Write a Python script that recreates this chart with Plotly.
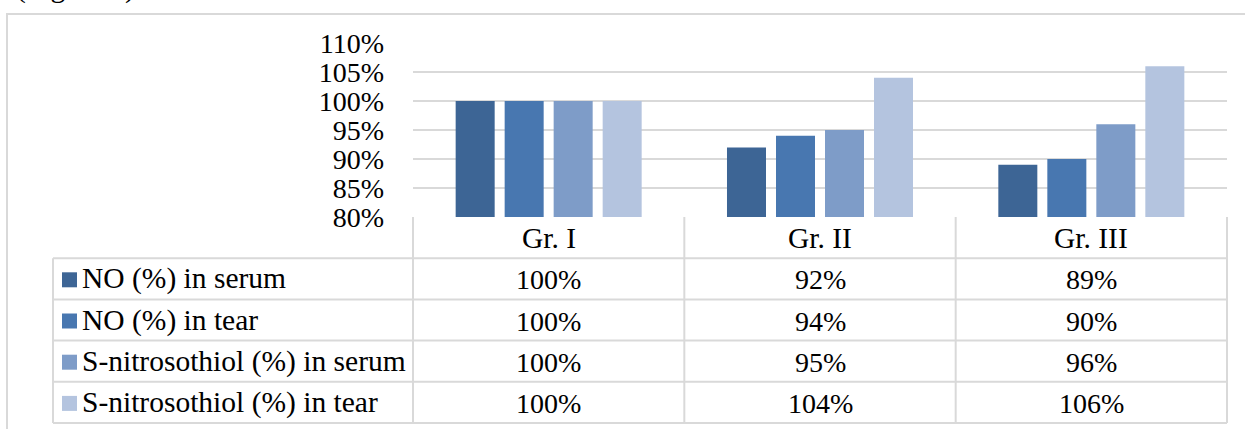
import plotly.graph_objects as go

# ---- data ----
categories = ["Gr. I", "Gr. II", "Gr. III"]
series_names = ["NO (%) in serum", "NO (%) in tear",
                "S-nitrosothiol (%) in serum", "S-nitrosothiol (%) in tear"]
no_serum = [1.00, 0.92, 0.89]
no_tear = [1.00, 0.94, 0.90]
snt_serum = [1.00, 0.95, 0.96]
snt_tear = [1.00, 1.04, 1.06]
y_ticks = [0.80, 0.85, 0.90, 0.95, 1.00, 1.05, 1.10]
caption = "(Figure 3)"

series_values = [no_serum, no_tear, snt_serum, snt_tear]
colors = ["#3d6595", "#4877b0", "#7e9cc8", "#b4c4df"]

FONT = "'Liberation Serif', 'Times New Roman', Times, 'DejaVu Serif', serif"
FS_NUM = 28
FS_TXT = 29.5
GRID = "#d9d9d9"

# page geometry (pixels)
WIDTH, HEIGHT = 1245, 429
L, R, T, B = 413, 1227, 43, 217
PW, PH = R - L, B - T


def px(p):
    return (p - L) / PW


def py(p):
    return (B - p) / PH


fig = go.Figure()
for name, vals, col in zip(series_names, series_values, colors):
    fig.add_trace(go.Bar(x=categories, y=vals, name=name,
                         marker=dict(color=col, line=dict(width=0)),
                         showlegend=False))

shapes = []
annotations = []

# outer chart frame
shapes.append(dict(type="rect", xref="paper", yref="paper",
                   x0=px(7), x1=px(1260), y0=py(14), y1=py(445),
                   line=dict(color=GRID, width=2), layer="below"))

# data table geometry
n_rows = len(series_names)
row_h = (423 - B) / (n_rows + 1)
row_edges = [B + i * row_h for i in range(n_rows + 2)]
ncat = len(categories)
col_edges = [i / ncat for i in range(ncat + 1)]  # paper x of category bounds
leg_left = px(53)

line = dict(color=GRID, width=2)
for ye in row_edges[1:]:
    shapes.append(dict(type="line", xref="paper", yref="paper",
                       x0=leg_left, x1=1, y0=py(ye), y1=py(ye), line=line))
for xe in col_edges:
    shapes.append(dict(type="line", xref="paper", yref="paper",
                       x0=xe, x1=xe, y0=py(row_edges[0]), y1=py(row_edges[-1]),
                       line=line))
shapes.append(dict(type="line", xref="paper", yref="paper",
                   x0=leg_left, x1=leg_left, y0=py(row_edges[1]), y1=py(row_edges[-1]),
                   line=line))

numfont = dict(family=FONT, size=FS_NUM, color="black")
txtfont = dict(family=FONT, size=FS_TXT, color="black")

for j, cat in enumerate(categories):
    annotations.append(dict(xref="paper", yref="paper",
                            x=(col_edges[j] + col_edges[j + 1]) / 2,
                            y=py((row_edges[0] + row_edges[1]) / 2),
                            text=cat, showarrow=False, xanchor="center", yanchor="middle",
                            font=txtfont))

for i, (name, vals, col) in enumerate(zip(series_names, series_values, colors)):
    top, bot = row_edges[i + 1], row_edges[i + 2]
    cy = (top + bot) / 2
    shapes.append(dict(type="rect", xref="paper", yref="paper",
                       x0=px(62), x1=px(77), y0=py(cy - 6.5), y1=py(cy + 8.5),
                       fillcolor=col, line=dict(width=0)))
    annotations.append(dict(xref="paper", yref="paper", x=px(80), y=py(cy),
                            text=name, showarrow=False, xanchor="left", yanchor="middle",
                            font=txtfont))
    for j, v in enumerate(vals):
        annotations.append(dict(xref="paper", yref="paper",
                                x=(col_edges[j] + col_edges[j + 1]) / 2, y=py(cy + 1),
                                text=f"{round(v * 100)}%", showarrow=False,
                                xanchor="center", yanchor="middle", font=numfont))

# partially visible caption at the very top of the page
annotations.append(dict(xref="paper", yref="paper", x=px(14), y=py(6),
                        text=caption, showarrow=False, xanchor="left", yanchor="bottom",
                        font=txtfont))

fig.update_layout(
    width=WIDTH, height=HEIGHT,
    margin=dict(l=L, r=WIDTH - R, t=T, b=HEIGHT - B, pad=0),
    paper_bgcolor="white", plot_bgcolor="white",
    barmode="group", bargap=0.2776, bargroupgap=0.204,
    showlegend=False,
    shapes=shapes, annotations=annotations,
    xaxis=dict(showticklabels=False, showgrid=False, zeroline=False, showline=False,
               range=[-0.5, len(categories) - 0.5]),
    yaxis=dict(range=[0.80, 1.10], tickvals=y_ticks, tickformat=".0%",
               showgrid=True, gridcolor=GRID, gridwidth=2, zeroline=False,
               showline=False, ticks="", ticklabelstandoff=28,
               tickfont=numfont),
    font=numfont,
)

fig.write_html("out.html", config={"displayModeBar": False},
               post_script="document.body.style.margin='0';document.body.style.overflow='hidden';")
